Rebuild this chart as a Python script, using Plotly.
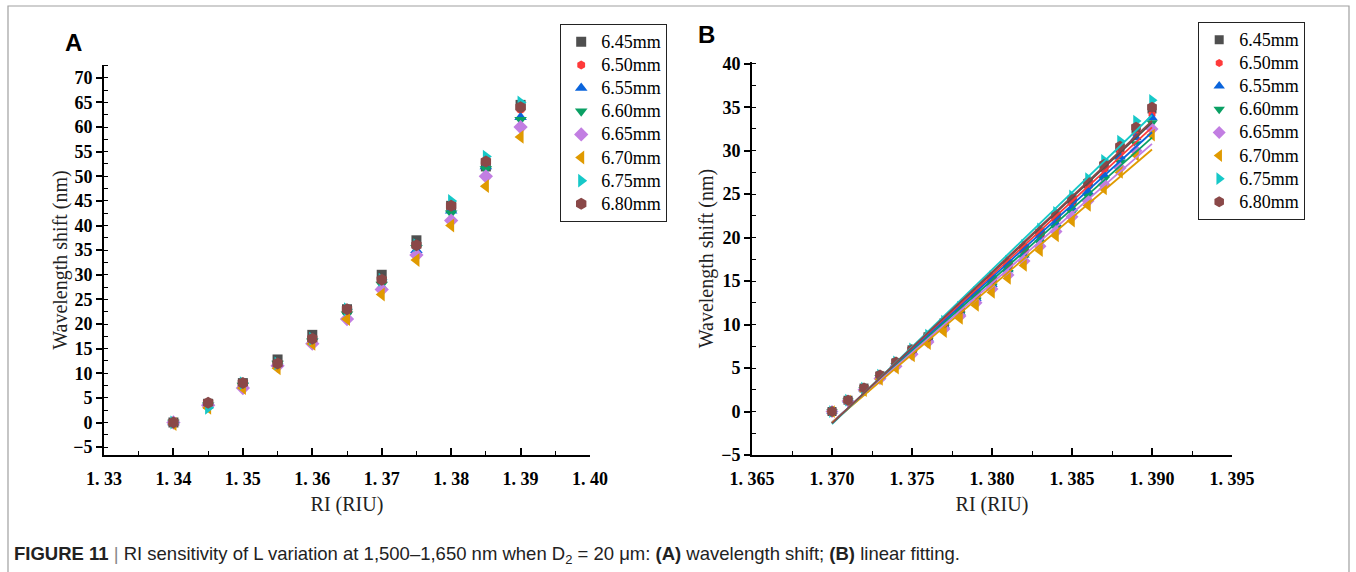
import numpy as np
import plotly.graph_objects as go

# ---------------- data ----------------
labels = ["6.45mm", "6.50mm", "6.55mm", "6.60mm", "6.65mm", "6.70mm", "6.75mm", "6.80mm"]

# Panel A: wavelength shift (nm) versus refractive index
ri_a = [1.340, 1.345, 1.350, 1.355, 1.360, 1.365, 1.370, 1.375, 1.380, 1.385, 1.390]
shift_a_645 = [0.0, 3.8, 8.0, 12.8, 17.8, 23.0, 30.0, 37.0, 44.0, 52.0, 64.5]
shift_a_650 = [0.0, 3.8, 7.8, 12.0, 17.0, 22.5, 29.0, 36.0, 43.5, 52.5, 63.5]
shift_a_655 = [0.0, 4.0, 7.5, 12.0, 16.5, 21.5, 27.5, 35.0, 43.0, 52.0, 62.0]
shift_a_660 = [0.0, 3.5, 7.5, 12.0, 16.5, 22.0, 28.0, 35.5, 42.5, 51.5, 61.5]
shift_a_665 = [0.0, 3.5, 7.0, 11.5, 16.0, 21.0, 27.0, 34.0, 41.0, 50.0, 60.0]
shift_a_670 = [-0.3, 3.0, 7.0, 11.0, 16.0, 21.0, 26.0, 33.0, 40.0, 48.0, 58.0]
shift_a_675 = [0.0, 3.0, 8.0, 12.0, 17.0, 23.0, 29.0, 36.0, 45.0, 54.0, 65.0]
shift_a_680 = [0.0, 4.0, 8.0, 12.0, 17.0, 23.0, 29.0, 36.0, 44.0, 53.0, 64.0]

# Panel B: finer RI steps used for the linear fitting
ri_b = [1.370, 1.371, 1.372, 1.373, 1.374, 1.375, 1.376, 1.377, 1.378, 1.379, 1.380,
        1.381, 1.382, 1.383, 1.384, 1.385, 1.386, 1.387, 1.388, 1.389, 1.390]
shift_b_645 = [0.0, 1.3, 2.7, 4.1, 5.6, 7.1, 8.6, 10.2, 11.8, 13.5, 15.2,
               16.9, 18.7, 20.5, 22.4, 24.3, 26.2, 28.2, 30.3, 32.5, 34.8]
shift_b_650 = [0.0, 1.3, 2.6, 4.0, 5.5, 7.0, 8.5, 10.0, 11.6, 13.2, 14.9,
               16.6, 18.4, 20.2, 22.0, 23.9, 25.8, 27.8, 29.8, 31.9, 34.2]
shift_b_655 = [0.0, 1.3, 2.6, 4.0, 5.4, 6.9, 8.4, 9.9, 11.4, 13.0, 14.6,
               16.3, 18.0, 19.8, 21.6, 23.4, 25.3, 27.2, 29.3, 31.5, 33.8]
shift_b_660 = [0.0, 1.2, 2.5, 3.9, 5.3, 6.7, 8.2, 9.7, 11.2, 12.8, 14.4,
               16.0, 17.7, 19.4, 21.1, 22.9, 24.8, 26.7, 28.7, 30.8, 33.2]
shift_b_665 = [0.0, 1.2, 2.5, 3.8, 5.2, 6.6, 8.0, 9.5, 11.0, 12.5, 14.1,
               15.7, 17.3, 19.0, 20.7, 22.4, 24.2, 26.1, 28.0, 30.0, 32.5]
shift_b_670 = [0.0, 1.2, 2.4, 3.7, 5.0, 6.4, 7.8, 9.2, 10.7, 12.2, 13.7,
               15.3, 16.8, 18.5, 20.2, 21.9, 23.7, 25.6, 27.5, 29.5, 31.8]
shift_b_675 = [0.0, 1.3, 2.7, 4.2, 5.7, 7.2, 8.8, 10.4, 12.0, 13.7, 15.5,
               17.3, 19.1, 21.0, 22.9, 24.8, 26.8, 28.9, 31.1, 33.4, 35.8]
shift_b_680 = [0.0, 1.3, 2.7, 4.2, 5.7, 7.1, 8.6, 10.2, 11.8, 13.5, 15.2,
               17.0, 18.8, 20.6, 22.5, 24.4, 26.4, 28.4, 30.5, 32.7, 35.0]

ticks_a_x = [1.33, 1.34, 1.35, 1.36, 1.37, 1.38, 1.39, 1.40]
ticktext_a_x = ["1. 33", "1. 34", "1. 35", "1. 36", "1. 37", "1. 38", "1. 39", "1. 40"]
minor_a_x = [1.335, 1.345, 1.355, 1.365, 1.375, 1.385, 1.395]
ticks_b_x = [1.365, 1.370, 1.375, 1.380, 1.385, 1.390, 1.395]
ticktext_b_x = ["1. 365", "1. 370", "1. 375", "1. 380", "1. 385", "1. 390", "1. 395"]
minor_b_x = [1.3675, 1.3725, 1.3775, 1.3825, 1.3875, 1.3925]

series_a = [shift_a_645, shift_a_650, shift_a_655, shift_a_660,
            shift_a_665, shift_a_670, shift_a_675, shift_a_680]
series_b = [shift_b_645, shift_b_650, shift_b_655, shift_b_660,
            shift_b_665, shift_b_670, shift_b_675, shift_b_680]

# ---------------- style ----------------
colors = ["#4f4f4f", "#ff3a3a", "#0a64dc", "#0aa064", "#c27ee2", "#e09a00", "#16c8c8", "#8a4848"]
symbols = ["square", "hexagon", "triangle-up", "triangle-down", "diamond",
           "triangle-left", "triangle-right", "hexagon"]
sizes_a = [10, 9, 11, 11, 11, 12, 12, 12]
sizes_b = [9, 8, 10, 10, 10, 11, 11, 11]

W, H = 1356, 572
SERIF = "Liberation Serif"
SANS = "Liberation Sans"


def px_x(v):
    return v / W


def px_y(v):
    return 1 - v / H


def legend_name(text):
    # larger glyphs than the legend's base font, keeping rows compact
    return f"<span style='font-size:18px'>{text}</span>"


fig = go.Figure()

# Panel A markers
for lab, ys, c, s, sz in zip(labels, series_a, colors, symbols, sizes_a):
    fig.add_trace(go.Scatter(
        x=ri_a, y=ys, mode="markers", name=legend_name(lab),
        marker=dict(symbol=s, size=sz, color=c, line=dict(width=0)),
        xaxis="x", yaxis="y", legend="legend",
    ))

# Panel B markers
for lab, ys, c, s, sz in zip(labels, series_b, colors, symbols, sizes_b):
    fig.add_trace(go.Scatter(
        x=ri_b, y=ys, mode="markers", name=legend_name(lab),
        marker=dict(symbol=s, size=sz, color=c, line=dict(width=0)),
        xaxis="x2", yaxis="y2", legend="legend2",
    ))

# Panel B linear fits
xb = np.array(ri_b)
for lab, ys, c in zip(labels, series_b, colors):
    k, b = np.polyfit(xb, np.array(ys), 1)
    xe = np.array([xb[0], xb[-1]])
    fig.add_trace(go.Scatter(
        x=xe, y=k * xe + b, mode="lines", showlegend=False,
        line=dict(color=c, width=1.8), xaxis="x2", yaxis="y2", hoverinfo="skip",
    ))

tickfont = dict(family=SERIF, size=18, color="black", weight="bold")
titlefont = dict(family=SERIF, size=20, color="#222")

common_x = dict(
    showline=True, linecolor="black", linewidth=2, showgrid=False, zeroline=False,
    ticks="inside", ticklen=7, tickwidth=1.5, tickcolor="black", tickfont=tickfont,
    tickmode="array", ticklabelstandoff=6, automargin=False,
)
common_y = dict(
    showline=True, linecolor="black", linewidth=2, showgrid=False, zeroline=False,
    ticks="outside", ticklen=6, tickwidth=1.5, tickcolor="black", tickfont=tickfont,
    dtick=5, tick0=0, automargin=False,
    minor=dict(ticks="inside", ticklen=4, tickwidth=1.2, tickcolor="black", dtick=2.5, tick0=0),
)
minor_x = dict(ticks="inside", ticklen=4, tickwidth=1.2, tickcolor="black")

legend_common = dict(
    xanchor="left", yanchor="top", bordercolor="#222", borderwidth=1.2, bgcolor="white",
    font=dict(family=SERIF, size=15.5, color="black"), tracegroupgap=0, itemsizing="trace",
)

fig.update_layout(
    width=W, height=H,
    margin=dict(l=0, r=0, t=0, b=0, autoexpand=False),
    paper_bgcolor="white", plot_bgcolor="white",
    xaxis=dict(common_x, domain=[px_x(104), px_x(590)], range=[1.33, 1.40],
               tickvals=ticks_a_x, ticktext=ticktext_a_x,
               minor=dict(minor_x, tickvals=minor_a_x),
               title=dict(text="RI (RIU)", font=titlefont, standoff=9),
               anchor="y"),
    yaxis=dict(common_y, domain=[px_y(455), px_y(65)], range=[-6.6, 72.6],
               title=dict(text="Wavelength shift (nm)", font=titlefont, standoff=0),
               anchor="x"),
    xaxis2=dict(common_x, domain=[px_x(752), px_x(1232)], range=[1.365, 1.395],
                tickvals=ticks_b_x, ticktext=ticktext_b_x,
                minor=dict(minor_x, tickvals=minor_b_x),
                title=dict(text="RI (RIU)", font=titlefont, standoff=9),
                anchor="y2"),
    yaxis2=dict(common_y, domain=[px_y(455), px_y(62)], range=[-5, 40.2],
                title=dict(text="Wavelength shift (nm)", font=titlefont, standoff=2),
                anchor="x2"),
    legend=dict(legend_common, x=px_x(560), y=px_y(24)),
    legend2=dict(legend_common, x=px_x(1198), y=px_y(22)),
    showlegend=True,
)

# Panel letters
fig.add_annotation(x=px_x(73), y=px_y(42), xref="paper", yref="paper", text="<b>A</b>",
                   xanchor="center", yanchor="middle",
                   showarrow=False, font=dict(family=SANS, size=24, color="black"))
fig.add_annotation(x=px_x(706), y=px_y(35), xref="paper", yref="paper", text="<b>B</b>",
                   xanchor="center", yanchor="middle",
                   showarrow=False, font=dict(family=SANS, size=24, color="black"))

# Caption
fig.add_annotation(
    x=px_x(12), y=px_y(555), xref="paper", yref="paper", xanchor="left", yanchor="middle",
    text=("<b>FIGURE 11</b> <span style='color:#888'>|</span> RI sensitivity of L variation at "
          "1,500–1,650 nm when D<sub>2</sub> = 20 μm: <b>(A)</b> wavelength shift; "
          "<b>(B)</b> linear fitting."),
    showarrow=False, font=dict(family=SANS, size=18.5, color="#222"),
)

# Outer figure frame
fig.add_shape(type="rect", xref="paper", yref="paper",
              x0=px_x(8), x1=px_x(1349), y0=px_y(590), y1=px_y(6),
              line=dict(color="#a0a0a0", width=1.2), layer="below")

fig.write_html("out.html")
